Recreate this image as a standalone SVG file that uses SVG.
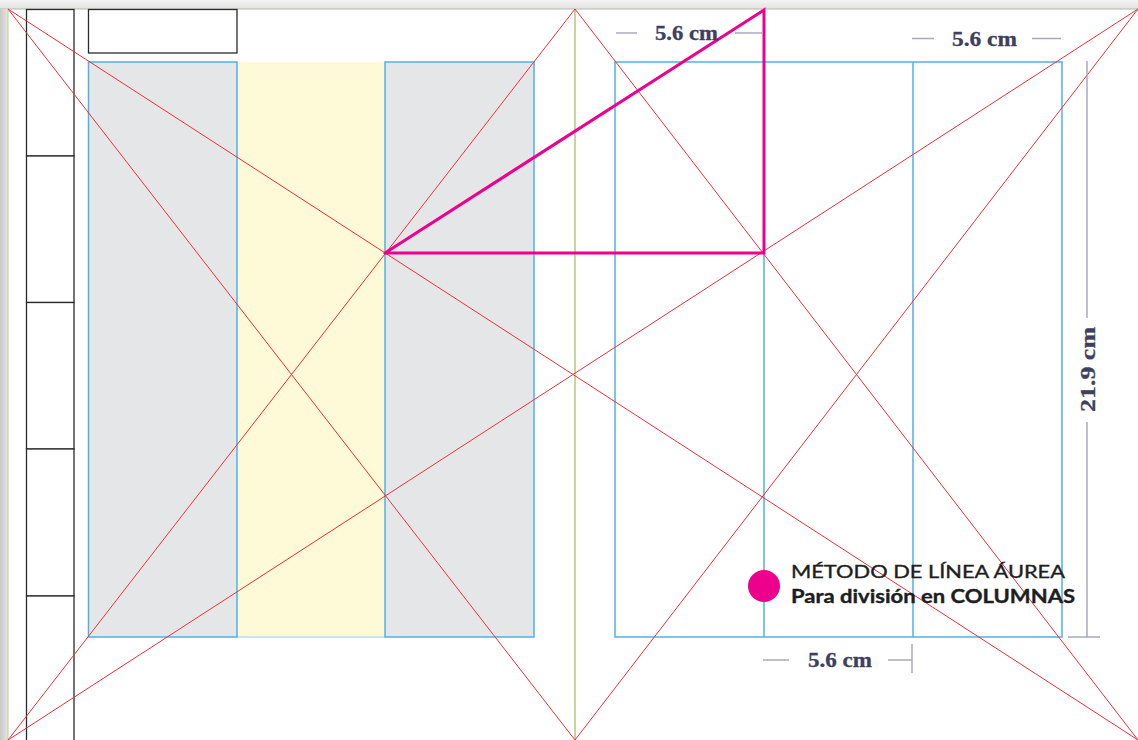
<svg xmlns="http://www.w3.org/2000/svg" width="1138" height="740" viewBox="0 0 1138 740">
<defs>
<linearGradient id="topg" x1="0" y1="0" x2="0" y2="1"><stop offset="0" stop-color="#f4f4f4"/><stop offset="1" stop-color="#e2e2e2"/></linearGradient>
<linearGradient id="leftg" x1="0" y1="0" x2="1" y2="0"><stop offset="0" stop-color="#c8c8c8"/><stop offset="1" stop-color="#e6e6e6"/></linearGradient>
</defs>
<style>
.blk{fill:#fff;stroke:#2a2a2a;stroke-width:1.3}
.gray{fill:#e5e6e8;stroke:#4fb2e6;stroke-width:1.5}
.blue{fill:none;stroke:#4fb2e6;stroke-width:1.5}
.red{stroke:#ee2f3a;stroke-width:1;fill:none}
.mag{stroke:#ec008c;stroke-width:3;fill:none;stroke-linecap:round}
.dim{stroke:#a9a8bd;stroke-width:1.5}
.dimt{font-family:"Liberation Serif",serif;font-weight:bold;font-size:20px;fill:#403f5c;stroke:#403f5c;stroke-width:0.3}
.leg{font-family:"Lato","Liberation Sans",sans-serif;font-size:18px;fill:#1e1e1e;stroke:#1e1e1e;stroke-width:0.35}
</style>
<rect x="0" y="0" width="1138" height="740" fill="#fff"/>
<rect x="0" y="0" width="1138" height="9" fill="url(#topg)"/>
<line x1="0" y1="9" x2="1138" y2="9" stroke="#b4b8ac" stroke-width="1"/>
<rect x="0" y="9" width="8" height="731" fill="url(#leftg)"/>
<line x1="8" y1="9" x2="8" y2="740" stroke="#c3cf8e" stroke-width="1"/>

<g id="left-strip">
<rect class="blk" x="26.5" y="9.5" width="47.5" height="146.5"/>
<rect class="blk" x="26.5" y="156" width="47.5" height="146.5"/>
<rect class="blk" x="26.5" y="302.5" width="47.5" height="146.5"/>
<rect class="blk" x="26.5" y="449" width="47.5" height="147"/>
<rect class="blk" x="26.5" y="596" width="47.5" height="150"/>
</g>
<g id="header-box"><rect class="blk" x="88.5" y="9.5" width="148.5" height="43.5"/></g>

<g id="left-block">
<rect x="237" y="62" width="148" height="575" fill="#fef9d6"/>
<line x1="237" y1="637" x2="385" y2="637" stroke="#b8ddf3" stroke-width="1.3"/>
<rect class="gray" x="88.5" y="62" width="148.5" height="575"/>
<rect class="gray" x="385" y="62" width="149" height="575"/>
</g>

<g id="right-block">
<rect class="blue" x="615" y="62" width="447" height="575"/>
<line class="blue" x1="764" y1="62" x2="764" y2="637"/>
<line class="blue" x1="913" y1="62" x2="913" y2="637"/>
</g>

<line id="spine" x1="575" y1="9" x2="575" y2="740" stroke="#a9bd6a" stroke-width="1.3"/>

<g id="diagonals">
<line class="red" x1="8" y1="9" x2="575" y2="740"/>
<line class="red" x1="8" y1="740" x2="575" y2="9"/>
<line class="red" x1="8" y1="9" x2="1138" y2="740"/>
<line class="red" x1="8" y1="740" x2="1138" y2="9"/>
<line class="red" x1="575" y1="9" x2="1138" y2="740"/>
<line class="red" x1="575" y1="740" x2="1138" y2="9"/>
</g>

<g id="triangle">
<polyline class="mag" points="385,253 764,10 764,253 385,253"/>
</g>

<g id="dim-top">
<line class="dim" x1="616" y1="33" x2="637" y2="33"/>
<line class="dim" x1="735" y1="33" x2="763" y2="33"/>
<text class="dimt" x="686.5" y="40" text-anchor="middle" textLength="63" lengthAdjust="spacingAndGlyphs">5.6 cm</text>
</g>
<g id="dim-top-right">
<line class="dim" x1="912" y1="38.5" x2="934" y2="38.5"/>
<line class="dim" x1="1032" y1="38.5" x2="1061" y2="38.5"/>
<text class="dimt" x="984.5" y="46" text-anchor="middle" textLength="65" lengthAdjust="spacingAndGlyphs">5.6 cm</text>
</g>
<g id="dim-height">
<line class="dim" x1="1087" y1="61" x2="1087" y2="318"/>
<line class="dim" x1="1087" y1="422" x2="1087" y2="637"/>
<line class="dim" x1="1068" y1="637" x2="1100" y2="637"/>
<text class="dimt" transform="translate(1094.5,369.5) rotate(-90)" text-anchor="middle" textLength="85" lengthAdjust="spacingAndGlyphs">21.9 cm</text>
</g>
<g id="dim-bottom">
<line class="dim" x1="763" y1="660" x2="789" y2="660"/>
<line class="dim" x1="888" y1="660" x2="912" y2="660"/>
<line class="dim" x1="912" y1="644" x2="912" y2="673"/>
<text class="dimt" x="840" y="667" text-anchor="middle" textLength="64" lengthAdjust="spacingAndGlyphs">5.6 cm</text>
</g>

<g id="legend">
<circle cx="764" cy="586" r="16" fill="#ec008c"/>
<text class="leg" x="791" y="578" textLength="274" lengthAdjust="spacingAndGlyphs">MÉTODO DE LÍNEA ÁUREA</text>
<text class="leg" x="791" y="603" font-weight="bold" stroke-width="0" textLength="284" lengthAdjust="spacingAndGlyphs">Para división en COLUMNAS</text>
</g>
</svg>
